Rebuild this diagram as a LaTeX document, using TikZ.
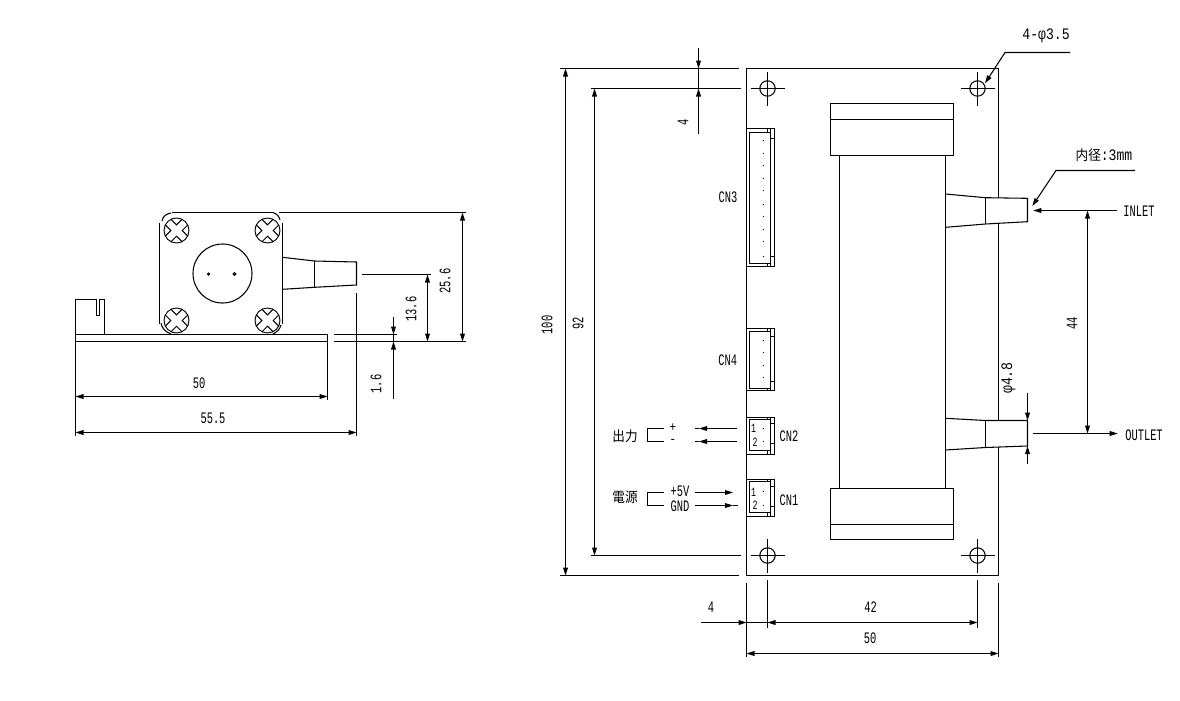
\documentclass[tikz,border=0pt]{standalone}
\usepackage{fontspec}
\setmainfont{Liberation Mono}[FakeStretch=0.65]
\newfontfamily\widefont{Liberation Mono}[FakeStretch=0.82]
\newfontfamily\jpfont{Noto Sans CJK JP}[FakeStretch=0.9]
\usetikzlibrary{arrows.meta}

\begin{document}
\begin{tikzpicture}[x=0.75pt,y=-0.75pt,line width=0.8pt]

  % Definitions
  \tikzstyle{dimline} = [->,>={Triangle[length=6pt,width=3.6pt]}]
  \tikzstyle{dimboth} = [<->,>={Triangle[length=6pt,width=3.6pt]}]
  \tikzstyle{dimtext} = [inner sep=0pt, font=\fontsize{12}{13}\selectfont]
  \tikzstyle{dimside} = [dimtext, rotate=90]
  \tikzstyle{widetext} = [inner sep=0pt, font=\widefont\fontsize{12}{13}\selectfont]
  \tikzstyle{signtext} = [inner sep=0pt, font=\widefont\fontsize{10}{11}\selectfont]
  \tikzstyle{pintext} = [inner sep=0pt, font=\fontsize{9.5}{10}\selectfont]
  \tikzstyle{jptext} = [inner sep=0pt, font=\jpfont\fontsize{10.5}{12}\selectfont]
  \tikzset{
    screw/.pic={
      \draw [line width=0.7pt] (0,0) circle (12.5);
      \begin{scope}[rotate=45, line width=0.7pt]
        \draw (12,4) -- (4,4) -- (4,12) (-4,12) -- (-4,4) -- (-12,4)
              (-12,-4) -- (-4,-4) -- (-4,-12) (4,-12) -- (4,-4) -- (12,-4);
      \end{scope}
    },
    hole/.pic={
      \draw (0,0) circle (7.7);
      \draw (-17,0) -- (17,0) (0,-17) -- (0,17);
    }
  }
  \useasboundingbox (0,0) rectangle (1180,700);

  % Side view, plate
  \draw (172,212.5) -- (273,212.5);
  \draw (159.5,223) -- (159.5,324);
  \draw (282.5,223) -- (282.5,324);
  \draw (162,221) .. controls (163,216) and (166,214) .. (171,213);
  \draw (273,212.5) .. controls (277,214) and (279,216) .. (280,220);
  \draw (161,323) .. controls (162,329) and (166,332) .. (171,334);
  \draw (273,334) .. controls (277,332) and (280,329) .. (281,325);
  \pic at (176.5,230.5) {screw};
  \pic at (267.5,230.5) {screw};
  \pic at (176.5,320.5) {screw};
  \pic at (267.5,320.5) {screw};
  \draw (222.5,273.5) circle (29.5);
  \draw (208.5,274) circle (1);
  \draw (234.5,274) circle (1.3);

  % Side view, tube
  \draw (282.5,257.3) -- (314.5,261) -- (356.5,262) -- (356.5,285) -- (314.5,287.3) -- (282.5,289.3);
  \draw (314.5,261) -- (314.5,287.3);

  % Side view, base
  \draw (327.5,334.5) -- (75.5,334.5) -- (75.5,341.5) -- (327.5,341.5) -- cycle;
  \draw (333.5,334.5) -- (397,334.5);
  \draw (333.5,341.5) -- (466,341.5);
  \draw (75.5,334.5) -- (75.5,299.5) -- (96.5,299.5) -- (96.5,315.5) -- (99.5,315.5) -- (99.5,299.5) -- (104.5,299.5) -- (104.5,334.5);

  % Side view, dimensions
  \draw (279,212.5) -- (466,212.5);
  \draw (361.5,274.5) -- (431,274.5);
  \draw (75.5,341.5) -- (75.5,436);
  \draw (327.5,341.5) -- (327.5,400);
  \draw (356.5,293) -- (356.5,436);
  \draw [dimboth] (75.5,396.5) -- (327.5,396.5);
  \draw [dimboth] (75.5,432.5) -- (356.5,432.5);
  \draw [dimboth] (427.5,274.5) -- (427.5,341.5);
  \draw [dimboth] (462.5,212.5) -- (462.5,341.5);
  \draw (393.5,334.5) -- (393.5,341.5);
  \draw [dimline] (393.5,317) -- (393.5,334.5);
  \draw [dimline] (393.5,399) -- (393.5,341.5);
  \node (len50) [dimtext] at (199,383) {50};
  \node (len55) [dimtext] at (213,418) {55.5};
  \node (hgt13) [dimside] at (411,309) {13.6};
  \node (hgt25) [dimside] at (445,281) {25.6};
  \node (hgt1) [dimside] at (376,384) {1.6};

  % Board
  \draw (998.5,198) -- (998.5,68.5) -- (746.5,68.5) -- (746.5,575.5) -- (998.5,575.5) -- (998.5,447);
  \draw (998.5,224) -- (998.5,420);
  \pic at (767.5,88.5) {hole};
  \pic at (977.5,88.5) {hole};
  \pic at (767.5,555.5) {hole};
  \pic at (977.5,555.5) {hole};

  % Pump body
  \draw (830.5,103.5) rectangle (953.5,155.5);
  \draw (830.5,119.5) -- (953.5,119.5);
  \draw (830.5,488.5) rectangle (953.5,539.5);
  \draw (830.5,524.5) -- (953.5,524.5);
  \draw (839.5,155.5) -- (839.5,488.5);
  \draw (945.5,155.5) -- (945.5,488.5);

  % Inlet and outlet
  \draw (945.5,194) -- (985.5,197.7) -- (1027.5,198.3) -- (1027.5,221.7) -- (985.5,224) -- (945.5,227.3);
  \draw (985.5,197.7) -- (985.5,224);
  \draw (945.5,418.3) -- (985.5,420.5) -- (1027.5,420.5) -- (1027.5,446) -- (985.5,447.5) -- (945.5,450);
  \draw (985.5,420.5) -- (985.5,447.5);

  % Connectors
  \draw (746.5,128.5) rectangle (774.5,266.5);
  \draw (749.5,132.5) rectangle (770.5,263.5);
  \draw (767.5,128.5) -- (767.5,132.5) (770.5,128.5) -- (770.5,132.5) (770.5,138.5) -- (774.5,138.5);
  \draw (767.5,263.5) -- (767.5,266.5) (770.5,263.5) -- (770.5,266.5) (770.5,256.5) -- (774.5,256.5);
  \draw (746.5,328.5) rectangle (774.5,390.5);
  \draw (749.5,331.5) rectangle (770.5,388.5);
  \draw (767.5,328.5) -- (767.5,331.5) (770.5,328.5) -- (770.5,331.5) (770.5,336.5) -- (774.5,336.5);
  \draw (767.5,388.5) -- (767.5,390.5) (770.5,388.5) -- (770.5,390.5) (770.5,381.5) -- (774.5,381.5);
  \draw (746.5,417.5) rectangle (774.5,454.5);
  \draw (749.5,419.5) rectangle (770.5,450.5);
  \draw (767.5,417.5) -- (767.5,419.5) (770.5,417.5) -- (770.5,419.5) (770.5,423.5) -- (774.5,423.5);
  \draw (767.5,450.5) -- (767.5,454.5) (770.5,450.5) -- (770.5,454.5) (770.5,443.5) -- (774.5,443.5);
  \draw (746.5,479.5) rectangle (774.5,516.5);
  \draw (749.5,481.5) rectangle (770.5,512.5);
  \draw (767.5,479.5) -- (767.5,481.5) (770.5,479.5) -- (770.5,481.5) (770.5,486.5) -- (774.5,486.5);
  \draw (767.5,512.5) -- (767.5,516.5) (770.5,512.5) -- (770.5,516.5) (770.5,506.5) -- (774.5,506.5);
  \fill (763.5,140.5) circle (0.6) (763.5,153.5) circle (0.6) (763.5,165.5) circle (0.6) (763.5,178.5) circle (0.6) (763.5,190.5) circle (0.6);
  \fill (763.5,204.5) circle (0.6) (763.5,216.5) circle (0.6) (763.5,229.5) circle (0.6) (763.5,241.5) circle (0.6) (763.5,256.5) circle (0.6);
  \fill (763.5,340.5) circle (0.6) (763.5,352.5) circle (0.6) (763.5,365.5) circle (0.6) (763.5,377.5) circle (0.6);
  \fill (763.5,428.5) circle (0.6) (763.5,441.5) circle (0.6) (763.5,491.5) circle (0.6) (763.5,505.5) circle (0.6);
  \node (cnthree) [dimtext] at (728,197.3) {CN3};
  \node (cnfour) [dimtext] at (727.7,360.7) {CN4};
  \node (cntwo) [dimtext] at (789,436.7) {CN2};
  \node (cnone) [dimtext] at (789,500) {CN1};
  \node (pinoa) [pintext] at (753.5,428.5) {1};
  \node (pinob) [pintext] at (755,442) {2};
  \node (pinpa) [pintext] at (753.5,492) {1};
  \node (pinpb) [pintext] at (755,505.5) {2};

  % Output and power wires
  \draw (663.5,428.5) -- (647.5,428.5) -- (647.5,441.5) -- (663.5,441.5);
  \draw (663.5,492.5) -- (647.5,492.5) -- (647.5,505.5) -- (663.5,505.5);
  \node (output) [jptext] at (625,436) {出力};
  \node (power) [jptext] at (625,497.5) {電源};
  \node (plus) [signtext] at (673,427.5) {+};
  \node (minus) [signtext] at (673,441.5) {-};
  \node (vcc) [dimtext] at (680,491.5) {+5V};
  \node (gnd) [dimtext] at (680,506) {GND};
  \draw [dimline] (736.5,428.5) -- (699,428.5);
  \draw (699,428.5) -- (694.5,428.5);
  \draw [dimline] (736.5,441.5) -- (699,441.5);
  \draw (699,441.5) -- (694.5,441.5);
  \draw [dimline] (695,492.5) -- (733,492.5);
  \draw [dimline] (695,505.5) -- (733,505.5);
  \draw (733,505.5) -- (737.5,505.5);

  % Front view, dimensions
  \draw (560,68.5) -- (739,68.5);
  \draw (591,88.5) -- (741,88.5);
  \draw (591,555.5) -- (741,555.5);
  \draw (560,575.5) -- (738.5,575.5);
  \draw [dimboth] (565.5,68.5) -- (565.5,575.5);
  \draw [dimboth] (594.5,88.5) -- (594.5,555.5);
  \draw (698.5,68.5) -- (698.5,88.5);
  \draw [dimline] (698.5,48) -- (698.5,68.5);
  \draw [dimline] (698.5,134) -- (698.5,88.5);
  \node (hgt100) [dimside] at (547,325) {100};
  \node (hgt92) [dimside] at (578,323) {92};
  \node (hgt4) [dimside] at (683,122) {4};

  \draw (746.5,583) -- (746.5,656.5);
  \draw (767.5,580) -- (767.5,627.5);
  \draw (977.5,580) -- (977.5,627.5);
  \draw (998.5,583) -- (998.5,656.5);
  \draw [dimline] (701,622.5) -- (746.5,622.5);
  \draw (746.5,622.5) -- (767.5,622.5);
  \draw [dimboth] (767.5,622.5) -- (977.5,622.5);
  \draw [dimboth] (746.5,653.5) -- (998.5,653.5);
  \node (wid4) [dimtext] at (711,607) {4};
  \node (wid42) [dimtext] at (870.5,607) {42};
  \node (wid50) [dimtext] at (870,638) {50};

  % Leaders
  \coordinate (holetip) at (985,83.3);
  \coordinate (holebend) at (1005,52.5);
  \coordinate (holeend) at (1070,52.5);
  \draw [dimline] (holeend) -- (holebend) -- (holetip);
  \node (holesize) [widetext] at (1046,36) {4-φ3.5};

  \coordinate (boretip) at (1032.3,206);
  \coordinate (borebend) at (1056,170.5);
  \coordinate (boreend) at (1135,170.5);
  \draw [dimline] (boreend) -- (borebend) -- (boretip);
  \node (boresize) [widetext] at (1104,155) {{\jpfont\fontsize{10.5}{12}\selectfont 内径}:3mm};

  \coordinate (intip) at (1033.3,210.5);
  \coordinate (inend) at (1116.7,210.5);
  \draw [dimline] (inend) -- (intip);
  \node (inlet) [dimtext] at (1139,211) {INLET};

  \coordinate (outstart) at (1033.3,433.5);
  \coordinate (outtip) at (1117.7,433.5);
  \draw [dimline] (outstart) -- (outtip);
  \node (outlet) [dimtext] at (1144,435) {OUTLET};

  \draw [dimboth] (1087.5,210.5) -- (1087.5,433.5);
  \node (gap44) [dimside] at (1072,323) {44};

  \draw (1027.5,420.5) -- (1027.5,446);
  \draw [dimline] (1027.5,393) -- (1027.5,420.5);
  \draw [dimline] (1027.5,464) -- (1027.5,446);
  \node (dia48) [widetext, rotate=90] at (1008.5,378) {φ4.8};

\end{tikzpicture}
\end{document}
